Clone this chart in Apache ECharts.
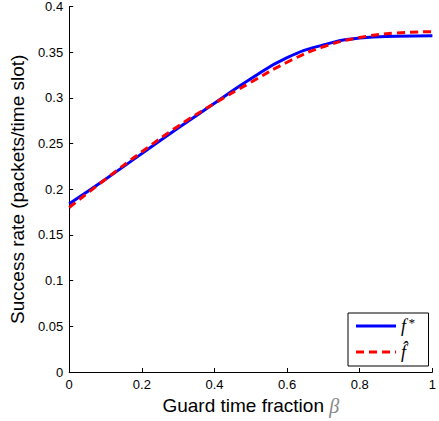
<!DOCTYPE html>
<html><head><meta charset="utf-8">
<script src="https://cdn.jsdelivr.net/npm/echarts@6/dist/echarts.min.js"></script>
<style>html,body{margin:0;padding:0;background:#fff}#c{width:439px;height:421px}</style>
</head><body><div id="c"></div>
<script>
const beta = [0, 0.1, 0.2, 0.3, 0.4, 0.5, 0.6, 0.7, 0.8, 0.9, 1.0];
const fStar = [0.184, 0.211, 0.239, 0.267, 0.294, 0.321, 0.344, 0.358, 0.3655, 0.3675, 0.368];
const fHat = [0.180, 0.211, 0.241, 0.269, 0.294, 0.317, 0.339, 0.356, 0.366, 0.371, 0.3725];
const xTicks = [0, 0.2, 0.4, 0.6, 0.8, 1];
const yTicks = [0, 0.05, 0.1, 0.15, 0.2, 0.25, 0.3, 0.35, 0.4];

const chart = echarts.init(document.getElementById('c'), null, {renderer: 'svg'});
const fmt = v => String(+v.toFixed(2));
const solidIcon = 'path://M0,0h40v3h-40z';
const dashIcon = 'path://M0,0h8v3h-8z M13,0h8v3h-8z M26,0h8v3h-8z M39,0h1v3h-1z';
chart.setOption({
  animation: false,
  grid: {left: 69, right: 3, top: 5, bottom: 49},
  legend: {
    orient: 'vertical', left: 348, top: 313,
    backgroundColor: '#fff', borderColor: '#000', borderWidth: 1,
    padding: [3, 14, 5, 8], itemGap: 8, itemWidth: 40, itemHeight: 3,
    textStyle: {fontFamily: 'Liberation Serif', fontStyle: 'italic', fontSize: 18, color: '#000',
      rich: {f: {fontFamily: 'Liberation Serif', fontStyle: 'italic', fontSize: 18, lineHeight: 20},
             s: {fontFamily: 'Liberation Serif', fontSize: 13, verticalAlign: 'top', padding: [0, 0, 6, 2]}}},
    formatter: function (n) { return n === 'fstar' ? '{f|f}{s|*}' : '{f|f\u0302}'; },
    data: [{name: 'fstar', icon: solidIcon}, {name: 'fhat', icon: dashIcon}]
  },
  xAxis: {
    type: 'value', min: 0, max: 1, interval: 0.2,
    name: 'Guard time fraction {b|β}', nameLocation: 'middle', nameGap: 21,
    nameTextStyle: {color: '#000', fontFamily: 'Liberation Sans', fontSize: 19,
      rich: {b: {fontFamily: 'Liberation Serif', fontStyle: 'italic', fontSize: 20, color: '#888'}}},
    axisLine: {lineStyle: {color: '#000', width: 1}},
    axisTick: {inside: true, length: 4, lineStyle: {color: '#000'}},
    axisLabel: {margin: 6, formatter: fmt, color: '#000', fontFamily: 'Liberation Sans', fontSize: 13, rotate: 0},
    splitLine: {show: false}
  },
  yAxis: {
    type: 'value', min: 0, max: 0.4, interval: 0.05,
    name: 'Success rate (packets/time slot)', nameLocation: 'middle', nameGap: 40, nameRotate: 90,
    nameTextStyle: {color: '#000', fontFamily: 'Liberation Sans', fontSize: 19},
    axisLine: {show: true, lineStyle: {color: '#000', width: 1}},
    axisTick: {show: true, inside: true, length: 4, lineStyle: {color: '#000'}},
    axisLabel: {margin: 6, formatter: fmt, color: '#000', fontFamily: 'Liberation Sans', fontSize: 13, rotate: 0},
    splitLine: {show: false}
  },
  series: [
    {name: 'fstar', type: 'line', smooth: true, symbol: 'none',
     data: beta.map((b, i) => [b, fStar[i]]),
     lineStyle: {color: '#0000ff', width: 3}, itemStyle: {color: '#0000ff'}},
    {name: 'fhat', type: 'line', smooth: true, symbol: 'none',
     data: beta.map((b, i) => [b, fHat[i]]),
     lineStyle: {color: '#ff0000', width: 3, type: [8, 5]}, itemStyle: {color: '#ff0000'}}
  ]
});
</script></body></html>
